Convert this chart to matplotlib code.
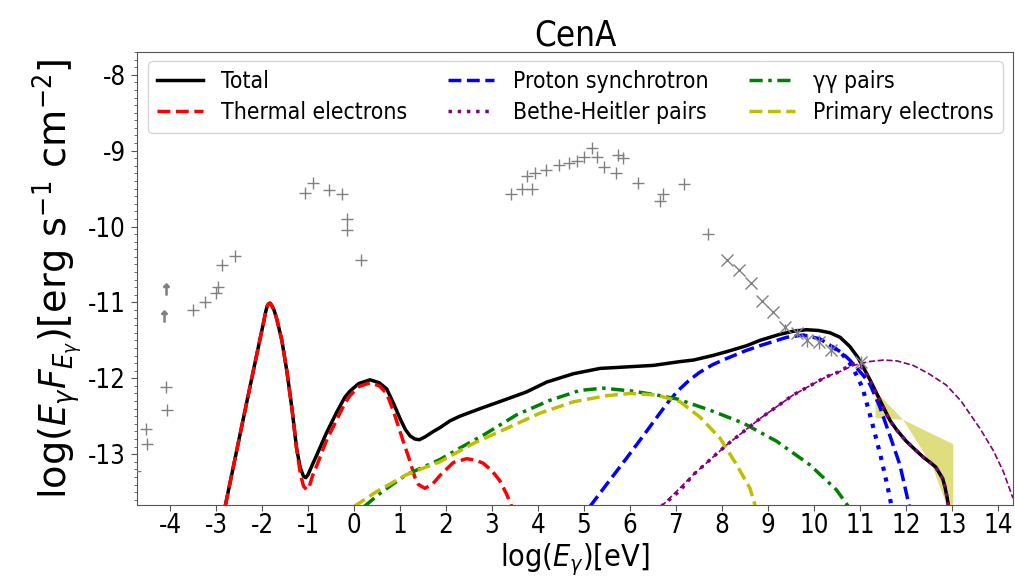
import numpy as np
import matplotlib
matplotlib.use("Agg")
import matplotlib.pyplot as plt
from matplotlib.ticker import MultipleLocator, FixedLocator

plt.rcParams['font.family'] = ['DejaVu Sans']
plt.rcParams['font.stretch'] = 'condensed'
plt.rcParams['mathtext.fontset'] = 'dejavusans'
plt.rcParams['axes.unicode_minus'] = False

# ---- model components: log10(E / eV) vs log10(E F_E / erg s^-1 cm^-2) ----
total_x = [-2.80, -2.50, -2.20, -1.97, -1.92, -1.89, -1.86, -1.83, -1.80, -1.74,
           -1.68, -1.57, -1.46, -1.35, -1.25, -1.17, -1.10, -1.05, -1.00, -0.90,
           -0.81, -0.60, -0.38, -0.20, -0.09, 0.10, 0.35, 0.55, 0.71, 0.85,
           1.00, 1.12, 1.22, 1.32, 1.42, 1.55, 1.70, 1.87, 2.09, 2.30,
           2.74, 3.25, 3.75, 4.19, 4.77, 5.35, 5.93, 6.51, 7.09, 7.38,
           7.80, 8.10, 8.54, 8.83, 9.26, 9.55, 9.84, 10.10, 10.35, 10.57,
           10.78, 10.95, 11.07, 11.22, 11.43, 11.65, 11.80, 12.01, 12.20, 12.38,
           12.55, 12.65, 12.74, 12.80, 12.85, 12.90, 12.93, 12.95]
total_y = [-13.68, -12.80, -11.93, -11.27, -11.12, -11.05, -11.02, -11.01, -11.03, -11.10,
           -11.22, -11.50, -11.91, -12.40, -12.92, -13.18, -13.29, -13.31, -13.27, -13.13,
           -13.01, -12.72, -12.45, -12.25, -12.17, -12.07, -12.02, -12.06, -12.14, -12.32,
           -12.53, -12.68, -12.76, -12.80, -12.81, -12.77, -12.71, -12.65, -12.56, -12.50,
           -12.40, -12.29, -12.18, -12.05, -11.94, -11.87, -11.85, -11.83, -11.78, -11.76,
           -11.70, -11.65, -11.57, -11.50, -11.42, -11.38, -11.36, -11.37, -11.40, -11.46,
           -11.58, -11.72, -11.85, -12.02, -12.28, -12.55, -12.68, -12.83, -12.94, -13.04,
           -13.12, -13.17, -13.26, -13.32, -13.43, -13.58, -13.70, -13.90]

thermal_x = [-2.80, -2.50, -2.20, -1.97, -1.92, -1.89, -1.86, -1.83, -1.80, -1.74,
             -1.68, -1.57, -1.46, -1.35, -1.25, -1.17, -1.10, -1.03, -0.97, -0.90,
             -0.81, -0.60, -0.38, -0.20, -0.09, 0.10, 0.35, 0.55, 0.71, 0.85,
             0.93, 1.08, 1.22, 1.32, 1.40, 1.54, 1.70, 1.87, 2.16, 2.45,
             2.65, 2.81, 3.00, 3.17, 3.32, 3.43, 3.50]
thermal_y = [-13.68, -12.80, -11.93, -11.27, -11.12, -11.05, -11.02, -11.01, -11.03, -11.10,
             -11.22, -11.50, -11.91, -12.40, -12.92, -13.25, -13.42, -13.47, -13.42, -13.28,
             -13.15, -12.82, -12.55, -12.33, -12.23, -12.11, -12.06, -12.10, -12.20, -12.42,
             -12.57, -12.85, -13.10, -13.30, -13.40, -13.45, -13.40, -13.28, -13.11, -13.06,
             -13.08, -13.12, -13.22, -13.35, -13.53, -13.69, -13.80]

psyn_x = [5.13, 5.49, 5.93, 6.36, 6.65, 6.85, 7.05, 7.30, 7.52, 7.80,
          8.10, 8.50, 8.83, 9.41, 9.77, 10.13, 10.42, 10.60, 10.78, 11.07,
          11.22, 11.43, 11.65, 11.87, 12.05, 12.09]
psyn_y = [-13.69, -13.40, -13.05, -12.70, -12.46, -12.30, -12.16, -12.02, -11.92, -11.82,
          -11.74, -11.64, -11.57, -11.46, -11.43, -11.48, -11.59, -11.66, -11.76, -11.96,
          -12.08, -12.37, -12.75, -13.14, -13.62, -13.72]

psyn_noabs_x = [10.42, 10.60, 10.78, 10.92, 11.06, 11.25, 11.45, 11.60, 11.69, 11.72]
psyn_noabs_y = [-11.59, -11.67, -11.80, -11.95, -12.13, -12.55, -13.02, -13.42, -13.69, -13.80]

bh_x = [6.68, 7.09, 7.38, 8.10, 8.83, 9.55, 10.27, 10.57, 10.82, 10.97,
        11.07, 11.22, 11.43, 11.65, 11.80, 12.01, 12.20, 12.38, 12.55, 12.65,
        12.74, 12.80, 12.85, 12.90, 12.93, 12.95]
bh_y = [-13.69, -13.48, -13.27, -12.88, -12.53, -12.22, -11.98, -11.91, -11.81, -11.83,
        -11.87, -12.03, -12.29, -12.56, -12.68, -12.83, -12.94, -13.04, -13.12, -13.17,
        -13.26, -13.32, -13.43, -13.58, -13.70, -13.90]

bh_noabs_x = [6.68, 7.38, 8.10, 8.83, 9.55, 10.27, 10.57, 10.86, 11.20, 11.51,
              11.80, 12.16, 12.50, 12.88, 13.20, 13.61, 13.90, 14.12, 14.33]
bh_noabs_y = [-13.69, -13.27, -12.88, -12.53, -12.22, -11.98, -11.91, -11.83, -11.78, -11.76,
              -11.77, -11.83, -11.94, -12.09, -12.30, -12.66, -12.95, -13.23, -13.58]

gg_x = [0.22, 0.60, 1.14, 1.87, 2.30, 2.81, 3.54, 4.26, 4.91, 5.42,
        6.07, 6.58, 7.01, 7.74, 8.46, 9.19, 9.91, 10.49, 10.75, 10.80]
gg_y = [-13.69, -13.50, -13.27, -13.07, -12.92, -12.75, -12.48, -12.29, -12.16, -12.13,
        -12.17, -12.22, -12.27, -12.42, -12.59, -12.83, -13.14, -13.47, -13.69, -13.75]

prim_x = [0.00, 0.50, 1.14, 1.87, 2.59, 3.32, 4.04, 4.77, 5.49, 6.00,
          6.58, 7.09, 7.52, 7.96, 8.32, 8.61, 8.72, 8.75]
prim_y = [-13.69, -13.49, -13.27, -13.10, -12.86, -12.66, -12.46, -12.31, -12.23, -12.20,
          -12.22, -12.31, -12.51, -12.79, -13.14, -13.45, -13.67, -13.75]

# ---- very-high-energy butterfly ----
band_x = [11.33, 11.93, 12.57, 13.02]
band_hi = [-12.16, -12.54, -12.73, -12.86]
band_lo = [-12.52, -12.54, -13.16, -13.90]

# ---- archival flux points ----
pts_x = [-4.76, -4.52, -4.50, -4.09, -4.07, -3.50, -3.24, -3.00, -2.96, -2.87,
         -2.59, -1.07, -0.89, -0.54, -0.26, -0.15, -0.15, 0.15, 3.41, 3.65,
         3.87, 3.76, 3.93, 4.17, 4.46, 4.67, 4.85, 5.00, 5.17, 5.28,
         5.43, 5.70, 5.74, 5.85, 6.17, 6.65, 6.72, 7.17, 7.70]
pts_y = [-13.22, -12.67, -12.87, -12.12, -12.42, -11.10, -10.99, -10.87, -10.80, -10.51,
         -10.39, -9.56, -9.43, -9.52, -9.57, -9.90, -10.05, -10.44, -9.57, -9.50,
         -9.50, -9.34, -9.30, -9.25, -9.19, -9.16, -9.13, -9.09, -8.97, -9.09,
         -9.21, -9.29, -9.06, -9.10, -9.42, -9.67, -9.57, -9.44, -10.10]

lim_x = [-4.09, -4.13]
lim_y = [-10.82, -11.18]

gev_x = [8.11, 8.37, 8.63, 8.87, 9.11, 9.37, 9.63, 9.85, 10.11, 10.37, 11.02]
gev_y = [-10.44, -10.57, -10.74, -10.98, -11.12, -11.33, -11.40, -11.50, -11.52, -11.63, -11.79]
gev_err = [0.0, 0.0, 0.0, 0.0, 0.0, 0.05, 0.06, 0.09, 0.09, 0.08, 0.08]

xticks = list(range(-4, 15))
yticks = [-13, -12, -11, -10, -9, -8]

fig = plt.figure(figsize=(10.15, 5.8), dpi=100)
ax = fig.add_axes([137 / 1015, 1 - 505 / 580, 876 / 1015, 453 / 580])

grey = '#808080'
ax.fill_between(band_x, band_lo, band_hi, color='y', alpha=0.5, lw=0, zorder=1)

ax.plot(pts_x, pts_y, ls='none', marker='+', ms=9, mew=1.0, color=grey, zorder=6)
ax.plot(lim_x, lim_y, ls='none', marker=r'$\uparrow$', ms=8, color=grey, zorder=6)
ax.errorbar(gev_x, gev_y, yerr=gev_err, fmt='x', ms=9, mew=1.0, color=grey,
            elinewidth=1.0, capsize=0, zorder=6)

h_tot, = ax.plot(total_x, total_y, color='k', lw=2.5, label='Total', zorder=3)
h_th, = ax.plot(thermal_x, thermal_y, color='r', ls='--', lw=2.5,
                label='Thermal electrons', zorder=4)
h_ps, = ax.plot(psyn_x, psyn_y, color='b', ls='--', lw=2.5,
                label='Proton synchrotron', zorder=4)
ax.plot(psyn_noabs_x, psyn_noabs_y, color='b', ls=':', lw=3, zorder=4)
h_bh, = ax.plot(bh_x, bh_y, color='purple', ls=':', lw=2.5,
                label='Bethe-Heitler pairs', zorder=5)
ax.plot(bh_noabs_x, bh_noabs_y, color='purple', ls='--', lw=1.2, zorder=4)
h_gg, = ax.plot(gg_x, gg_y, color='g', ls=(0, (3.8, 1.6, 1, 1.6)), lw=2.5,
                label='γγ pairs', zorder=4)
h_pe, = ax.plot(prim_x, prim_y, color='y', ls='--', lw=2.5,
                label='Primary electrons', zorder=4)

ax.set_xlim(-4.72, 14.33)
ax.set_ylim(-13.67, -7.70)
ax.xaxis.set_major_locator(FixedLocator(xticks))
ax.set_xticklabels([str(t) for t in xticks])
ax.yaxis.set_major_locator(FixedLocator(yticks))
ax.set_yticklabels([str(t) for t in yticks])
ax.yaxis.set_minor_locator(MultipleLocator(0.1))
ax.tick_params(axis='both', which='major', labelsize=18.5, length=4.5, color='#555555')
ax.tick_params(axis='x', which='major', pad=1.5)
ax.tick_params(axis='y', which='minor', length=2.5, color='#555555')
for s in ax.spines.values():
    s.set_color('#555555')

ax.set_title('CenA', fontsize=25, pad=4)
ax.set_xlabel(r'log($E_{\gamma}$)[eV]', fontsize=22)
ax.xaxis.set_label_coords(0.5, -0.0817)
ax.set_ylabel(r'log($E_{\gamma}F_{E_{\gamma}}$)[erg s$^{-1}$ cm$^{-2}$]',
              fontsize=27.5, fontstretch='normal', labelpad=3)

ax.legend(handles=[h_tot, h_th, h_ps, h_bh, h_gg, h_pe], ncol=3, fontsize=16.5,
          loc='upper left', bbox_to_anchor=(0.0126, 0.0, 0.976, 0.98),
          mode='expand', borderaxespad=0.0, handlelength=2.0, labelspacing=0.35)

fig.savefig('out.png', dpi=100)
